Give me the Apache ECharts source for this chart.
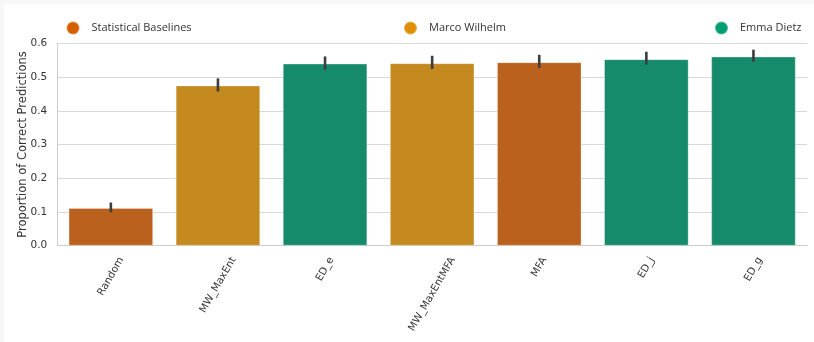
<!DOCTYPE html>
<html><head><meta charset="utf-8">
<script src="https://cdn.jsdelivr.net/npm/echarts@6/dist/echarts.min.js"></script>
<style>
html,body{margin:0;padding:0;background:#f7f7f7;}
#c{position:absolute;left:4px;top:4px;width:810px;height:338px;background:#fff;}
</style></head><body><div id="c"></div>
<script>
const categories = ['Random','MW_MaxEnt','ED_e','MW_MaxEntMFA','MFA','ED_j','ED_g'];
const groupOf = ['Statistical Baselines','Marco Wilhelm','Emma Dietz','Marco Wilhelm','Statistical Baselines','Emma Dietz','Emma Dietz'];
const means = [0.112, 0.475, 0.540, 0.541, 0.544, 0.553, 0.561];
const errLow = [0.099, 0.457, 0.522, 0.524, 0.527, 0.537, 0.545];
const errHigh = [0.128, 0.496, 0.561, 0.563, 0.566, 0.575, 0.581];
const legendNames = ['Statistical Baselines','Marco Wilhelm','Emma Dietz'];
const legendColors = ['#d55e00','#de8f05','#029e73'];
const barColors = ['#ba611d','#c4891f','#168b6b'];

const chart = echarts.init(document.getElementById('c'));
const font = 'DejaVu Sans';
const labelFontSize = 10.3;
const mctx = document.createElement('canvas').getContext('2d');
mctx.font = labelFontSize + 'px "' + font + '"';

const series = legendNames.map((g, gi) => ({
  name: g, type: 'bar', stack: 'all',
  barCategoryGap: '21%',
  itemStyle: {color: barColors[gi], borderColor: 'rgba(255,255,255,0.3)', borderWidth: 1},
  data: means.map((v, i) => groupOf[i] === g ? v : null),
  emphasis: {disabled: true}
}));
series.push({
  type: 'custom', name: 'err', z: 10, silent: true,
  data: categories.map((c, i) => [i, errLow[i], errHigh[i]]),
  renderItem: (params, api) => {
    const p1 = api.coord([api.value(0), api.value(1)]);
    const p2 = api.coord([api.value(0), api.value(2)]);
    return {type: 'line', shape: {x1: p1[0], y1: p1[1], x2: p2[0], y2: p2[1]},
      style: {stroke: '#3d3d3d', lineWidth: 2.6}};
  }
});
// x tick labels, rotated 60deg with bounding box centred on the tick (matplotlib style)
series.push({
  type: 'custom', name: 'xlabels', z: 20, silent: true, clip: false,
  data: categories.map((c, i) => [i, 0]),
  renderItem: (params, api) => {
    const i = api.value(0);
    const p = api.coord([i, 0]);
    const txt = categories[i];
    const L = mctx.measureText(txt).width;
    const h = 12;
    const s = Math.sin(Math.PI / 3), c = Math.cos(Math.PI / 3);
    const W = L * c + h * s;
    const top = p[1] + 9.3;
    const ax = p[0] + W / 2 - (h / 2) * s;
    const ay = top + (h / 2) * c;
    return {type: 'text', x: ax, y: ay, rotation: Math.PI / 3,
      style: {x: 0, y: 0, text: txt, align: 'right', verticalAlign: 'middle',
        fontFamily: font, fontSize: labelFontSize, fill: '#333'}};
  }
});
const legendLeft = [56.5, 394, 705];
chart.setOption({
  animation: false,
  legend: legendNames.map((n, i) => ({
    data: [{name: n, itemStyle: {color: legendColors[i]}}],
    left: legendLeft[i], top: 11.5, icon: 'circle', itemWidth: 13, itemHeight: 13,
    selectedMode: false,
    textStyle: {fontFamily: 'Open Sans', fontSize: 11, color: '#333', padding: [0,0,0,7]}
  })),
  grid: {left: 53.3, right: 7, top: 39.3, bottom: 96.3},
  xAxis: {
    type: 'category', data: categories,
    axisLine: {lineStyle: {color: '#cccccc', width: 1}},
    axisTick: {show: false},
    axisLabel: {show: false}
  },
  yAxis: {
    type: 'value', min: 0, max: 0.6, interval: 0.1,
    name: 'Proportion of Correct Predictions', nameLocation: 'middle', nameGap: 28,
    nameMoveOverlap: false,
    nameTextStyle: {fontFamily: font, fontSize: 11.5, color: '#333'},
    axisLine: {show: true, lineStyle: {color: '#cccccc'}},
    axisTick: {show: false},
    axisLabel: {fontFamily: font, fontSize: 10.5, color: '#333', margin: 10,
      formatter: v => v.toFixed(1)},
    splitLine: {lineStyle: {color: '#d9d9d9'}}
  },
  series: series
});
</script></body></html>
